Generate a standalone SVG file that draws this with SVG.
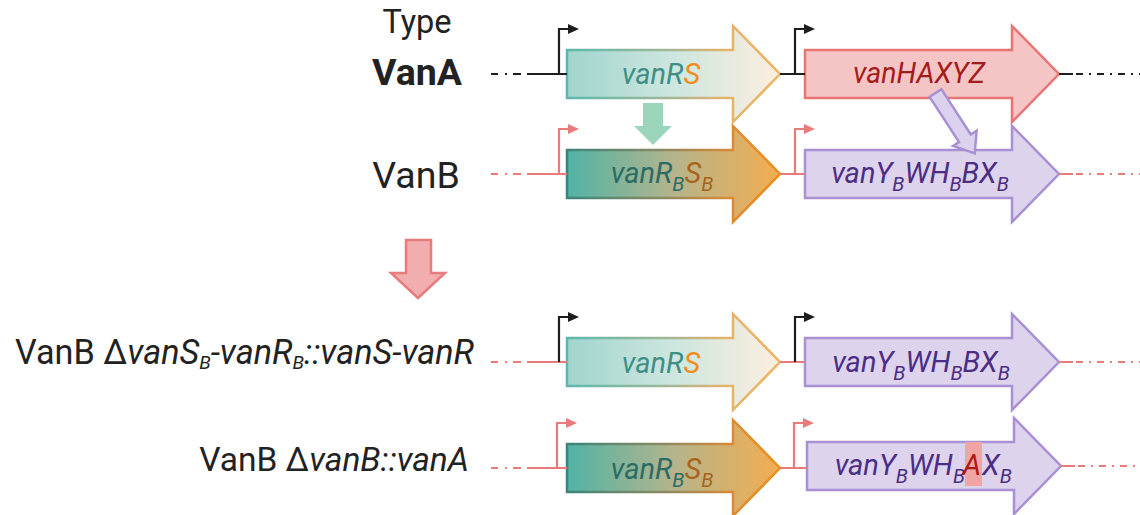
<svg xmlns="http://www.w3.org/2000/svg" width="1140" height="515" viewBox="0 0 1140 515">
<style>
text{font-family:Roboto,"Liberation Sans",sans-serif;}
.lbl{fill:#222;}
.gene{font-style:italic;}
.sub{font-size:20px;}
.lsub{font-size:19px;}
.blk{stroke:#1e1e1e;stroke-width:2.2;fill:none;}
.red{stroke:#e97b7b;stroke-width:2.2;fill:none;}
.blkf{fill:#1e1e1e;}
.redf{fill:#e97b7b;}
.gA{stroke-width:2.5;stroke-linejoin:miter;}
.purple{fill:#ddd3ec;stroke:#a98fd3;}
.pink{fill:#f5c5c5;stroke:#e87474;}
.ptxt{fill:#4b2d84;}
</style>
<defs>
<linearGradient id="fRS" gradientUnits="userSpaceOnUse" x1="567" y1="0" x2="780" y2="0">
<stop offset="0" stop-color="#a0d5cd"/><stop offset="0.5" stop-color="#cde6df"/><stop offset="1" stop-color="#fcefdf"/>
</linearGradient>
<linearGradient id="sRS" gradientUnits="userSpaceOnUse" x1="567" y1="0" x2="780" y2="0">
<stop offset="0" stop-color="#5cb8ad"/><stop offset="0.45" stop-color="#9db69a"/><stop offset="0.75" stop-color="#e6b36c"/><stop offset="1" stop-color="#efb462"/>
</linearGradient>
<linearGradient id="fRB" gradientUnits="userSpaceOnUse" x1="567" y1="0" x2="780" y2="0">
<stop offset="0" stop-color="#50b3a6"/><stop offset="0.5" stop-color="#b4b48c"/><stop offset="1" stop-color="#f4ad50"/>
</linearGradient>
<linearGradient id="sRB" gradientUnits="userSpaceOnUse" x1="567" y1="0" x2="780" y2="0">
<stop offset="0" stop-color="#3d857c"/><stop offset="0.45" stop-color="#8a8a60"/><stop offset="0.8" stop-color="#e28a30"/><stop offset="1" stop-color="#ea8f1e"/>
</linearGradient>
</defs>

<!-- row labels -->
<g id="label-type"><text class="lbl" x="417" y="33" font-size="32.5" text-anchor="middle">Type</text></g>
<g id="label-vana"><text class="lbl" x="417" y="85" font-size="37.5" font-weight="bold" text-anchor="middle">VanA</text></g>
<g id="label-vanb"><text class="lbl" x="416" y="188" font-size="37.5" text-anchor="middle">VanB</text></g>
<g id="label-mut1"><text class="lbl" x="474" y="364" font-size="34.2" text-anchor="end">VanB Δ<tspan font-style="italic">vanS<tspan class="lsub" dy="5">B</tspan><tspan dy="-5">-vanR</tspan><tspan class="lsub" dy="5">B</tspan><tspan dy="-5">::vanS-vanR</tspan></tspan></text></g>
<g id="label-mut2"><text class="lbl" x="469" y="471" font-size="33.5" text-anchor="end">VanB Δ<tspan font-style="italic">vanB::vanA</tspan></text></g>

<!-- big transition arrow -->
<g id="transition-arrow"><path d="M406 240 H431 V273 H445 L418 298 L391 273 H406 Z" fill="#f2aeae" stroke="#e67c7c" stroke-width="2.5" stroke-linejoin="miter"/></g>

<!-- row 1: VanA -->
<g id="vanA-vanRS">
<path class="gA" d="M567 50 H733 V26 L780 74 L733 122 V98 H567 Z" fill="url(#fRS)" stroke="url(#sRS)"/>
<text class="gene" x="661" y="84" font-size="29" text-anchor="middle"><tspan fill="#3d8f86">vanR</tspan><tspan fill="#f08c1e">S</tspan></text>
</g>
<g id="vanA-vanHAXYZ">
<path class="gA pink" d="M805 50 H1012 V26 L1059 74 L1012 122 V98 H805 Z"/>
<text class="gene" x="919" y="83" font-size="28.5" text-anchor="middle" fill="#a31c1c">vanHAXYZ</text>
</g>

<!-- row 2: VanB -->
<g id="vanB-vanRBSB">
<path class="gA" d="M567 150 H733 V126 L780 174 L733 222 V198 H567 Z" fill="url(#fRB)" stroke="url(#sRB)"/>
<text class="gene" x="662" y="183" font-size="29" text-anchor="middle"><tspan fill="#2d6b64">vanR</tspan><tspan class="sub" fill="#2d6b64" dy="8">B</tspan><tspan fill="#a8641c" dy="-8">S</tspan><tspan class="sub" fill="#a8641c" dy="8">B</tspan></text>
</g>
<g id="vanB-vanYWHBX">
<path class="gA purple" d="M805 150 H1012 V126 L1059 174 L1012 222 V198 H805 Z"/>
<text class="gene ptxt" x="920" y="183" font-size="29" text-anchor="middle">vanY<tspan class="sub" dy="8">B</tspan><tspan dy="-8">WH</tspan><tspan class="sub" dy="8">B</tspan><tspan dy="-8">BX</tspan><tspan class="sub" dy="8">B</tspan></text>
</g>

<!-- row 3 -->
<g id="mut1-vanRS">
<path class="gA" d="M567 338 H733 V314 L780 362 L733 410 V386 H567 Z" fill="url(#fRS)" stroke="url(#sRS)"/>
<text class="gene" x="661" y="373" font-size="29" text-anchor="middle"><tspan fill="#3d8f86">vanR</tspan><tspan fill="#f08c1e">S</tspan></text>
</g>
<g id="mut1-vanYWHBX">
<path class="gA purple" d="M805 338 H1012 V314 L1059 362 L1012 410 V386 H805 Z"/>
<text class="gene ptxt" x="921" y="372" font-size="29" text-anchor="middle">vanY<tspan class="sub" dy="8">B</tspan><tspan dy="-8">WH</tspan><tspan class="sub" dy="8">B</tspan><tspan dy="-8">BX</tspan><tspan class="sub" dy="8">B</tspan></text>
</g>

<!-- row 4 -->
<g id="mut2-vanRBSB">
<path class="gA" d="M567 444 H733 V420 L780 468 L733 516 V492 H567 Z" fill="url(#fRB)" stroke="url(#sRB)"/>
<text class="gene" x="662" y="479" font-size="29" text-anchor="middle"><tspan fill="#2d6b64">vanR</tspan><tspan class="sub" fill="#2d6b64" dy="8">B</tspan><tspan fill="#a8641c" dy="-8">S</tspan><tspan class="sub" fill="#a8641c" dy="8">B</tspan></text>
</g>
<g id="mut2-vanYWHAX">
<path class="gA purple" d="M807 442 H1014 V418 L1061 466 L1014 514 V490 H807 Z"/>
<rect x="965" y="442" width="17" height="44" fill="#f0a5a5"/>
<text class="gene ptxt" x="965" y="475" font-size="29" text-anchor="end">vanY<tspan class="sub" dy="8">B</tspan><tspan dy="-8">WH</tspan><tspan class="sub" dy="8">B</tspan></text>
<text class="gene" x="972" y="475" font-size="29" text-anchor="middle" fill="#b01818">A</text>
<text class="gene ptxt" x="982" y="475" font-size="29">X<tspan class="sub" dy="8">B</tspan></text>
</g>

<!-- connectors -->
<g id="connectors">
<!-- row 1 backbone -->
<path class="blk" d="M491 74 H498 M505 74 H507 M513 74 H521 M527 74 H567 M780 74 H805 M1059 74 H1073"/>
<path class="blk" d="M1076 74 H1140" stroke-dasharray="7 6 2 6"/>
<path class="blk" d="M559 74 V29 H569 M795 74 V29 H805"/>
<path class="blkf" d="M568 24 L579 29 L568 34 Z M804 24 L815 29 L804 34 Z"/>
<!-- row 2 backbone -->
<path class="red" d="M491 174 H498 M505 174 H507 M513 174 H521 M527 174 H567 M780 174 H805 M1059 174 H1073"/>
<path class="red" d="M1076 174 H1140" stroke-dasharray="7 6 2 6"/>
<path class="red" d="M559 174 V129 H569 M795 174 V129 H805"/>
<path class="redf" d="M568 124 L579 129 L568 134 Z M804 124 L815 129 L804 134 Z"/>
<!-- row 3 backbone -->
<path class="red" d="M491 362 H498 M505 362 H507 M513 362 H521 M527 362 H567 M780 362 H805 M1059 362 H1073"/>
<path class="red" d="M1076 362 H1140" stroke-dasharray="7 6 2 6"/>
<path class="blk" d="M559 362 V317 H569 M795 362 V317 H805"/>
<path class="blkf" d="M568 312 L579 317 L568 322 Z M804 312 L815 317 L804 322 Z"/>
<!-- row 4 backbone -->
<path class="red" d="M491 468 H498 M505 468 H507 M513 468 H521 M527 468 H567 M780 468 H807 M1061 466 H1075"/>
<path class="red" d="M1078 466 H1140" stroke-dasharray="7 6 2 6"/>
<path class="red" d="M557 468 V423 H567 M794 468 V423 H804"/>
<path class="redf" d="M566 418 L577 423 L566 428 Z M803 418 L814 423 L803 428 Z"/>
<!-- transfer arrows -->
<path d="M643 103 H663 V126 H672 L653 145 L634 126 H643 Z" fill="#9bd5bc"/>
<path transform="translate(935.5 93) rotate(-33)" d="M-7 0 H7 V54 H14 L0 72 L-14 54 H-7 Z" fill="#ddd2ee" stroke="#a98fd3" stroke-width="2.5" stroke-linejoin="miter"/>
</g>
</svg>
